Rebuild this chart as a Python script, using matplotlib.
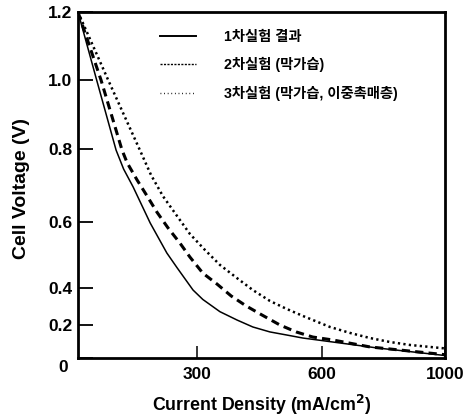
import numpy as np
import matplotlib
matplotlib.use("Agg")
import matplotlib.pyplot as plt
from matplotlib.lines import Line2D
from matplotlib.transforms import ScaledTranslation

plt.rcParams['font.family'] = ['Liberation Sans', 'Noto Sans CJK KR', 'DejaVu Sans']
plt.rcParams['font.weight'] = 'bold'

# 데이터
x_solid = [0, 47, 96, 115, 139, 182, 224, 250, 290, 314, 355, 396, 434, 475, 516, 554, 590, 779, 1000]
y_solid = [1.2, 1.0, 0.797, 0.745, 0.696, 0.597, 0.506, 0.461, 0.389, 0.338, 0.272, 0.227, 0.188,
           0.158, 0.139, 0.121, 0.109, 0.061, 0.015]

x_dash = [0, 58, 111, 124, 149, 176, 199, 227, 257, 282, 314, 348, 382, 418, 456, 499, 538,
          578, 636, 756, 886, 1000]
y_dash = [1.2, 1.0, 0.797, 0.762, 0.715, 0.668, 0.627, 0.582, 0.536, 0.494, 0.445, 0.412,
          0.357, 0.303, 0.254, 0.2, 0.158, 0.127, 0.109, 0.067, 0.042, 0.02]

x_dot = [0, 76, 156, 184, 214, 250, 282, 317, 355, 396, 434, 475, 516, 554, 590, 626, 691,
         756, 821, 886, 984, 1000]
y_dot = [1.2, 1.0, 0.797, 0.729, 0.671, 0.616, 0.564, 0.518, 0.47, 0.43, 0.389, 0.33, 0.286,
         0.249, 0.216, 0.188, 0.152, 0.121, 0.097, 0.079, 0.061, 0.058]

labels = ['1차실험 결과', '2차실험 (막가습)', '3차실험 (막가습, 이중촉매층)']
x_ticks = [300, 600, 1000]
y_ticks = [0, 0.2, 0.4, 0.6, 0.8, 1.0, 1.2]
y_ticklabels = ['0', '0.2', '0.4', '0.6', '0.8', '1.0', '1.2']

# 원본 그림의 눈금 간격이 균일하지 않아서 구간별 선형 스케일 사용
x_anchor = [0, 300, 600, 1000]
x_pix = [0, 119, 244, 367]
y_anchor = [0, 0.2, 0.4, 0.6, 0.8, 1.0, 1.2]
y_pix = [0, 33, 70, 136, 209, 278, 346]


def fx(v):
    return np.interp(v, x_anchor, x_pix)


def fx_inv(p):
    return np.interp(p, x_pix, x_anchor)


def fy(v):
    return np.interp(v, y_anchor, y_pix)


def fy_inv(p):
    return np.interp(p, y_pix, y_anchor)


fig = plt.figure(figsize=(4.7, 4.18), dpi=100)
ax = fig.add_axes([78 / 470, 60 / 418, 367 / 470, 346 / 418])
ax.set_xscale('function', functions=(fx, fx_inv))
ax.set_yscale('function', functions=(fy, fy_inv))

ax.plot(x_solid, y_solid, color='black', lw=1.1)
ax.plot(x_dash, y_dash, color='black', lw=2.2, dashes=(2.7, 1.7))
ax.plot(x_dot, y_dot, color='black', lw=1.8, dashes=(0.9, 1.3))

ax.set_xlim(0, 1000)
ax.set_ylim(0, 1.2)

ax.set_xticks(x_ticks)
ax.set_xticklabels([str(t) for t in x_ticks])
ax.set_yticks(y_ticks)
ax.set_yticklabels(y_ticklabels)
ax.tick_params(axis='x', direction='in', length=9, width=1.1, pad=6.5, labelsize=12.5)
ax.tick_params(axis='y', direction='in', length=11, width=1.3, pad=4, labelsize=12.5)

# "0" 라벨은 원점 아래쪽에 있음
zero_lbl = ax.get_yticklabels()[0]
zero_lbl.set_transform(zero_lbl.get_transform() + ScaledTranslation(-3 / 72, -6 / 72, fig.dpi_scale_trans))

for s in ax.spines.values():
    s.set_linewidth(2.0)

ax.set_xlabel('Current Density (mA/cm$^\\mathbf{2}$)', fontsize=12.8, fontweight='bold', labelpad=8)
ax.set_ylabel('Cell Voltage (V)', fontsize=14, fontweight='bold')
ax.yaxis.set_label_coords(-0.13, 0.49)

# 범례
handles = [
    Line2D([], [], color='black', lw=1.4),
    Line2D([], [], color='black', lw=1.0, dashes=(1.5, 1.0)),
    Line2D([], [], color='black', lw=1.0, dashes=(0.6, 2.0)),
]
ax.legend(handles, labels, loc='upper left', bbox_to_anchor=(0.223, 0.948),
          frameon=False, borderpad=0, borderaxespad=0,
          handlelength=2.5, handletextpad=2.0, labelspacing=0.93,
          prop={'size': 10.3, 'weight': 'bold'})

fig.savefig('out.png', dpi=100)
